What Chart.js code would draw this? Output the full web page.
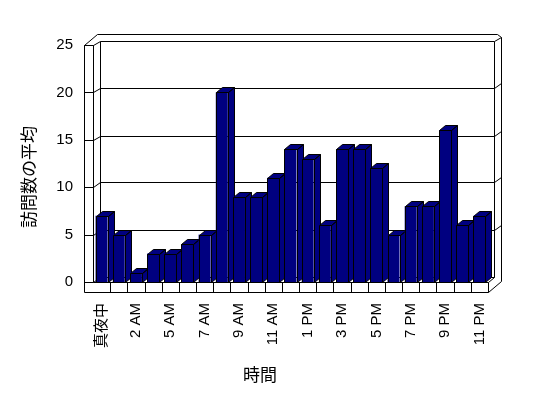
<!DOCTYPE html>
<html>
<head>
<meta charset="utf-8">
<script src="https://cdn.jsdelivr.net/npm/chart.js@4/dist/chart.umd.min.js"></script>
<style>
  body { margin: 0; background: #fff; }
  #wrap { width: 548px; height: 398px; }
</style>
</head>
<body>
<div id="wrap"><canvas id="c" width="548" height="398"></canvas></div>
<script>
// hours (one hour is missing in the source data)
const hours = ['真夜中', '1 AM', '2 AM', '4 AM', '5 AM', '6 AM', '7 AM', '8 AM', '9 AM', '10 AM', '11 AM', '正午',
               '1 PM', '2 PM', '3 PM', '4 PM', '5 PM', '6 PM', '7 PM', '8 PM', '9 PM', '10 PM', '11 PM'];
const visits = [7, 5, 1, 3, 3, 4, 5, 20, 9, 9, 11, 14, 13, 6, 14, 14, 12, 5, 8, 8, 16, 6, 7];
const yTicks = [0, 5, 10, 15, 20, 25];
const xTitle = '時間';
const yTitle = '訪問数の平均';

const NAVY = '#000080';
const DX = 6, DY = -5;   // bar depth offset

function barBox(bar) {
    return {
        xl: Math.round(bar.x - bar.width / 2), xr: Math.round(bar.x + bar.width / 2),
        yt: Math.round(bar.y), yb: Math.round(bar.base)
    };
}

// Excel-like 3D box: walls, floor, gridlines + bar tops/sides
const box3d = {
    id: 'box3d',
    beforeDatasetsDraw(chart) {
        const {ctx, chartArea: {left: L, right: R, top: T, bottom: B}} = chart;
        const y = chart.scales.y;
        const x = chart.scales.x;
        const backTop = T - 4, backBot = B - 5;
        ctx.save();
        ctx.lineWidth = 1;
        ctx.strokeStyle = '#000';
        ctx.fillStyle = '#fff';
        ctx.translate(0.5, 0.5);

        // outer outline
        ctx.beginPath();
        ctx.moveTo(L - 9, B + 10);
        ctx.lineTo(L - 9, T);
        ctx.lineTo(L + 4, T - 11);
        ctx.lineTo(R + 9, T - 11);
        ctx.lineTo(R + 13, T - 8);
        ctx.lineTo(R + 13, B - 1);
        ctx.lineTo(R, B + 10);
        ctx.closePath();
        ctx.fill();
        ctx.stroke();

        ctx.beginPath();
        // back wall face
        ctx.rect(L + 7, backTop, R - L - 1, backBot - backTop);
        // left wall edges
        ctx.moveTo(L - 9, T); ctx.lineTo(L, T);
        ctx.lineTo(L + 7, backTop);
        ctx.moveTo(L, T); ctx.lineTo(L, B);
        ctx.lineTo(L + 7, backBot);
        // floor
        ctx.moveTo(L, B); ctx.lineTo(R, B); ctx.lineTo(R + 6, backBot);
        ctx.moveTo(R, B); ctx.lineTo(R, B + 10);
        ctx.moveTo(R + 6, backTop); ctx.lineTo(R + 13, T - 8);
        ctx.stroke();

        // gridlines
        ctx.beginPath();
        yTicks.forEach(v => {
            const yf = Math.round(y.getPixelForValue(v));
            const yb = Math.round(backBot + (yf - B) * (backTop - backBot) / (T - B));
            ctx.moveTo(L - 9, yf); ctx.lineTo(L, yf);
            if (v === 0 || v === yTicks[yTicks.length - 1]) return;
            ctx.lineTo(L + 7, yb);
            ctx.lineTo(R + 6, yb);
            ctx.lineTo(R + 13, yb - 5);
        });
        // category ticks on the floor front
        for (let i = 1; i < hours.length; i++) {
            const xp = Math.round((x.getPixelForValue(i - 1) + x.getPixelForValue(i)) / 2);
            ctx.moveTo(xp, B); ctx.lineTo(xp, B + 10);
        }
        ctx.stroke();
        ctx.restore();

        // bar tops and right sides (fronts are drawn by Chart.js)
        ctx.save();
        ctx.fillStyle = NAVY;
        ctx.strokeStyle = '#000';
        ctx.lineWidth = 1;
        ctx.translate(0.5, 0.5);
        chart.getDatasetMeta(0).data.forEach(bar => {
            const {xl, xr, yt, yb} = barBox(bar);
            ctx.beginPath();
            ctx.moveTo(xr, yt);
            ctx.lineTo(xr + DX, yt + DY);
            ctx.lineTo(xr + DX, yb + DY);
            ctx.lineTo(xr, yb);
            ctx.closePath();
            ctx.moveTo(xl, yt);
            ctx.lineTo(xl + DX, yt + DY);
            ctx.lineTo(xr + DX, yt + DY);
            ctx.lineTo(xr, yt);
            ctx.closePath();
            ctx.fill();
            ctx.stroke();
        });
        ctx.restore();
    },
    afterDatasetsDraw(chart) {
        // crisp outline on the front faces
        const {ctx} = chart;
        ctx.save();
        ctx.strokeStyle = '#000';
        ctx.lineWidth = 1;
        ctx.translate(0.5, 0.5);
        ctx.beginPath();
        chart.getDatasetMeta(0).data.forEach(bar => {
            const {xl, xr, yt, yb} = barBox(bar);
            ctx.rect(xl, yt, xr - xl, yb - yt);
        });
        ctx.stroke();
        ctx.restore();
    },
    afterDraw(chart) {
        const {ctx} = chart;
        ctx.save();
        ctx.fillStyle = '#000';
        ctx.font = '17px "Noto Sans CJK JP", sans-serif';
        ctx.textAlign = 'center';
        ctx.textBaseline = 'middle';
        ctx.fillText(xTitle, 260, 375);
        ctx.translate(29, 177);
        ctx.rotate(-Math.PI / 2);
        ctx.fillText(yTitle, 0, 0);
        ctx.restore();
    }
};

new Chart(document.getElementById('c'), {
    type: 'bar',
    data: {
        labels: hours,
        datasets: [{
            data: visits,
            backgroundColor: NAVY,
            borderWidth: 0,
            barPercentage: 0.7,
            categoryPercentage: 1
        }]
    },
    options: {
        responsive: false,
        animation: false,
        layout: { padding: { top: 45, right: 60, left: 0, bottom: 0 } },
        plugins: {
            legend: { display: false },
            tooltip: { enabled: false }
        },
        scales: {
            x: {
                grid: { display: false, drawTicks: false },
                border: { display: false },
                ticks: {
                    autoSkip: false,
                    minRotation: 90,
                    maxRotation: 90,
                    padding: 21,
                    color: '#000',
                    font: { family: '"Liberation Sans", "Noto Sans CJK JP"', size: 15 },
                    callback: (v, i) => i % 2 === 0 ? hours[i] : ''
                },
                afterFit: s => { s.height = 116; }
            },
            y: {
                min: 0,
                max: 25,
                afterBuildTicks: s => { s.ticks = yTicks.map(v => ({value: v})); },
                grid: { display: false, drawTicks: false },
                border: { display: false },
                ticks: {
                    padding: 20,
                    color: '#000',
                    font: { family: '"Liberation Sans"', size: 15 }
                },
                afterFit: s => { s.width = 93; }
            }
        }
    },
    plugins: [box3d]
});
</script>
</body>
</html>
